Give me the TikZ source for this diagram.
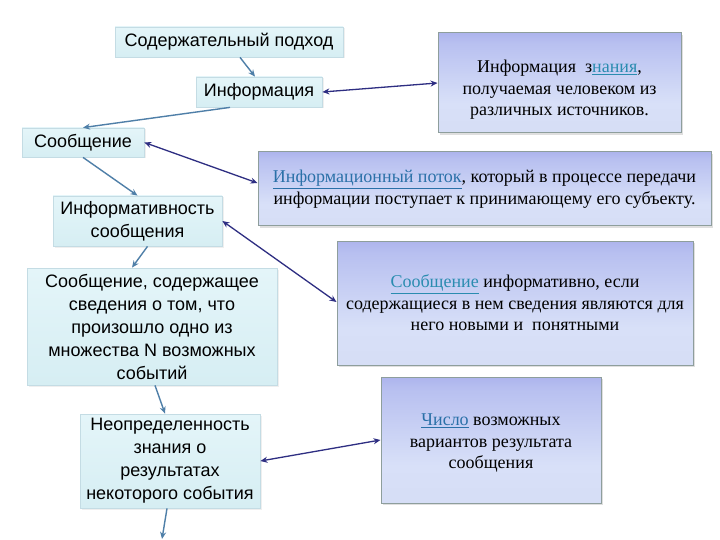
\documentclass[tikz,border=0pt]{standalone}
\usepackage{fontspec}
\setmainfont{Liberation Serif}
\setsansfont{Liberation Sans}
\usetikzlibrary{arrows.meta,shadows,calc}
\definecolor{lbtop}{HTML}{E4F5F9}
\definecolor{lbbot}{HTML}{D6EEF3}
\definecolor{lbdraw}{HTML}{C4DCE4}
\definecolor{rbdraw}{HTML}{8E9E9C}
\definecolor{rbA}{HTML}{8EA29C}
\definecolor{rbB}{HTML}{B8C8D0}
\definecolor{rbC}{HTML}{D4DCF4}
\definecolor{rbD}{HTML}{D8E0F8}
\definecolor{rbE}{HTML}{B8C0F0}
\definecolor{rbF}{HTML}{8C90E4}
\definecolor{rbG}{HTML}{7072D8}
\definecolor{steel}{HTML}{4F7FA8}
\definecolor{navy}{HTML}{2E2E82}
\definecolor{linkA}{HTML}{2A8CB0}
\definecolor{linkB}{HTML}{2A70A8}
\pgfdeclareverticalshading{rboxshade}{100bp}{color(0bp)=(rbA); color(8bp)=(rbB); color(16bp)=(rbC); color(40bp)=(rbD); color(70bp)=(rbE); color(90bp)=(rbF); color(100bp)=(rbG)}
\tikzset{
  lbox/.style={draw=lbdraw, line width=0.8pt, top color=lbtop, bottom color=lbbot,
    font=\sffamily\fontsize{18}{23}\selectfont, align=center, inner sep=0pt,
    drop shadow={opacity=0.12, shadow xshift=1.5pt, shadow yshift=-1.5pt}},
  rbox/.style={draw=rbdraw, line width=1pt, shading=rboxshade, align=center, inner sep=0pt,
    font=\rmfamily\fontsize{18}{21.5}\selectfont,
    drop shadow={opacity=0.25, shadow xshift=2pt, shadow yshift=-2pt}},
  rtext/.style={align=center, inner sep=0pt, font=\rmfamily\fontsize{18}{21.5}\selectfont},
  sarrow/.style={draw=steel, line width=1.4pt, -{Stealth[length=7pt,width=6pt]}},
  darrow/.style={draw=navy, line width=1.3pt, {Stealth[length=7pt,width=6pt]}-{Stealth[length=7pt,width=6pt]}}
}
\begin{document}
\begin{tikzpicture}[x=1pt,y=-1pt]
\useasboundingbox[fill=white] (0,0) rectangle (720,540);
% left boxes
\node[lbox, minimum width=228pt, minimum height=30pt] (n1) at (229,42) {Содержательный подход};
\node[lbox, minimum width=126pt, minimum height=30pt] (n2) at (259,92) {Информация};
\node[lbox, minimum width=122pt, minimum height=29pt] (n3) at (83,142.5) {Сообщение};
\node[lbox, minimum width=169pt, minimum height=50pt] (n4) at (137.5,221) {Информативность\\сообщения};
\node[lbox, minimum width=250pt, minimum height=117pt] (n5) at (152,326.5) {Сообщение, содержащее\\сведения о том, что\\произошло одно из\\множества N возможных\\событий};
\node[lbox, minimum width=180pt, minimum height=94pt] (n6) at (170,461) {Неопределенность\\знания о\\результатах\\некоторого события};
% right boxes
\node[rbox, minimum width=243pt, minimum height=100pt] (A) at (559.5,83) {};
\node[rtext] (Atext) at ([yshift=-7pt]A.center) {Информация \ з\textcolor{linkA}{\underline{нания}},\\получаемая человеком из\\различных источников.};
\node[rbox, minimum width=453pt, minimum height=74pt] (B) at (484.5,189) {\textcolor{linkB}{\underline{Информационный поток}}, который в процессе передачи\\информации поступает к принимающему его субъекту.};
\node[rbox, minimum width=356pt, minimum height=124pt] (C) at (515,303) {\textcolor{linkA}{\underline{Сообщение}} информативно, если\\содержащиеся в нем сведения являются для\\него новыми и \ понятными};
\node[rbox, minimum width=220pt, minimum height=126pt] (D) at (491,440) {};
\node[rtext] (Dtext) at ([yshift=-3pt]D.center) {\textcolor{linkB}{\underline{Число}} возможных\\вариантов результата\\сообщения};
\coordinate (end) at (162,539);
% single arrows
\draw[sarrow] ([xshift=11pt]n1.south) -- ([xshift=-4pt]n2.north);
\draw[sarrow] ([xshift=-29pt]n2.south) -- (n3.north);
\draw[sarrow] (n3.south) -- (n4.north);
\draw[sarrow] ([xshift=10pt]n4.south) -- ([xshift=-20pt]n5.north);
\draw[sarrow] ([xshift=3pt]n5.south) -- ([xshift=-5pt]n6.north);
\draw[sarrow] ([xshift=-3pt]n6.south) -- (end);
% double arrows
\draw[darrow] (n2.east) -- (A.west);
\draw[darrow] (n3.east) -- ([yshift=6pt]B.west);
\draw[darrow] (n4.east) -- ([yshift=1pt]C.west);
\draw[darrow] (n6.east) -- (D.west);
\end{tikzpicture}
\end{document}
